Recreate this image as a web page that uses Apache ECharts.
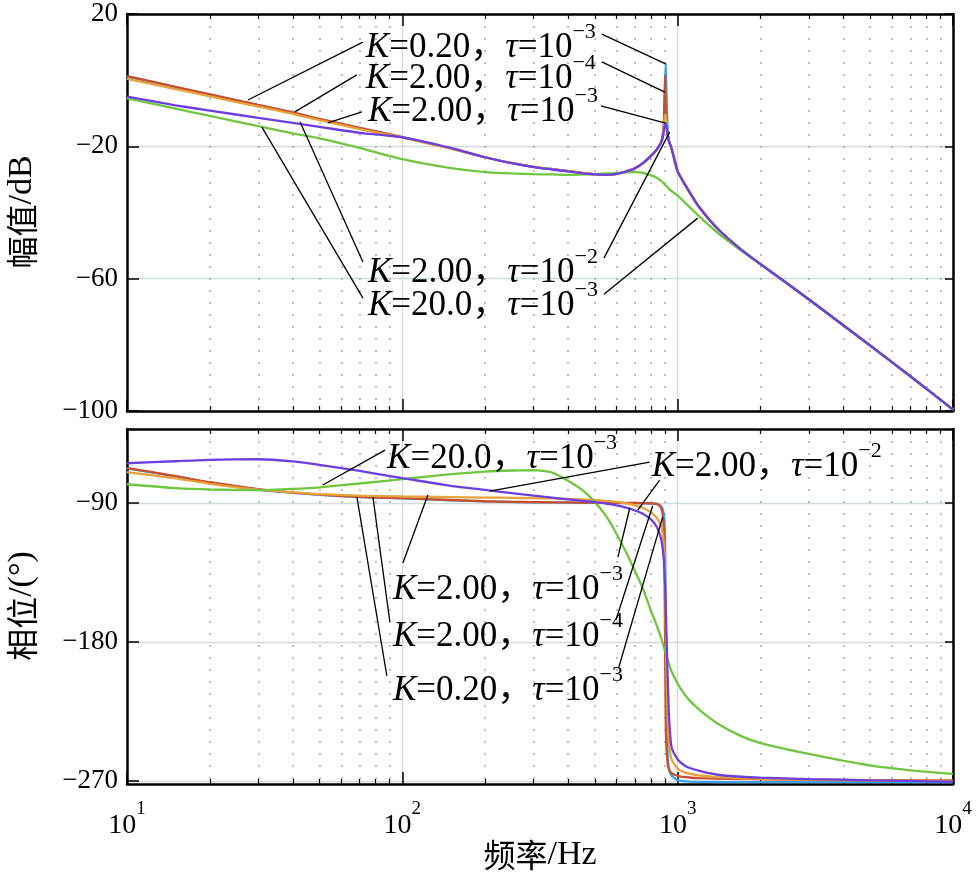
<!DOCTYPE html>
<html><head><meta charset="utf-8">
<script src="https://cdn.jsdelivr.net/npm/echarts@6/dist/echarts.min.js"></script>
<style>html,body{margin:0;padding:0;background:#fff}#c{width:980px;height:876px}</style>
</head><body><div id="c"></div>
<script>
// ---------------- data ----------------
const freq = [10, 15, 20, 30, 40, 50, 70, 100, 150, 200, 250, 300, 350, 400, 450, 500, 550, 600, 650, 700, 750, 800, 830, 850, 870, 880, 890, 895, 900, 905, 910, 920, 930, 950, 1000, 1050, 1100, 1200, 1400, 1700, 2000, 3000, 5000, 7000, 10000];

// magnitude, dB
const magBlue   = [1.1, -2.1, -4.4, -7.6, -9.8, -11.8, -14.5, -17.2, -20.6, -23.3, -25.1, -26.2, -26.9, -27.5, -28.0, -28.4, -28.6, -28.3, -27.6, -26.6, -25.0, -22.9, -21.5, -20.3, -18.8, -17.3, -14.0, -9.0, -3.5, 5.2, -3.0, -15.0, -18.3, -20.6, -27.6, -30.8, -33.6, -38.5, -45.0, -51.2, -55.6, -66.3, -80.2, -89.5, -99.6];
const magRed    = [1.2, -2.0, -4.3, -7.5, -9.7, -11.7, -14.4, -17.2, -20.6, -23.3, -25.1, -26.2, -26.9, -27.5, -28.0, -28.4, -28.6, -28.3, -27.6, -26.6, -25.0, -22.9, -21.5, -20.3, -18.8, -17.3, -13.5, -6.0, 1.6, -8.0, -13.0, -16.5, -18.5, -20.6, -27.6, -30.8, -33.6, -38.5, -45.0, -51.2, -55.6, -66.3, -80.2, -89.5, -99.6];
const magOrange = [0.4, -2.7, -4.9, -8.0, -10.2, -12.1, -14.8, -17.4, -20.7, -23.3, -25.1, -26.2, -26.9, -27.5, -28.0, -28.4, -28.6, -28.3, -27.6, -26.6, -25.0, -22.9, -21.5, -20.3, -18.9, -17.6, -14.5, -12.0, -10.5, -10.8, -13.0, -16.5, -18.5, -20.6, -27.6, -30.8, -33.6, -38.5, -45.0, -51.2, -55.6, -66.3, -80.2, -89.5, -99.6];
const magPurple = [-5.0, -7.6, -9.2, -11.4, -12.9, -14.1, -15.9, -17.3, -20.5, -23.3, -25.1, -26.3, -27.0, -27.6, -28.1, -28.5, -28.6, -28.3, -27.6, -26.6, -25.0, -22.9, -21.5, -20.3, -18.9, -17.8, -15.5, -14.4, -13.6, -13.2, -13.8, -16.5, -18.5, -20.6, -27.6, -30.8, -33.6, -38.5, -45.0, -51.2, -55.6, -66.3, -80.2, -89.5, -99.6];
const magGreen  = [-5.5, -8.6, -10.8, -13.9, -16.1, -17.6, -20.5, -23.9, -26.6, -27.8, -28.2, -28.4, -28.5, -28.6, -28.5, -28.4, -28.2, -28.1, -27.9, -27.8, -28.0, -28.8, -29.3, -29.8, -30.4, -30.8, -31.2, -31.4, -31.6, -31.8, -32.0, -32.4, -32.8, -33.5, -34.9, -36.6, -38.2, -41.2, -46.2, -51.5, -55.7, -66.3, -80.2, -89.5, -99.6];

// phase, degrees
const phBlue   = [-67.5, -72.7, -76.7, -81.2, -83.4, -84.7, -86.1, -87.0, -88.2, -88.9, -89.3, -89.5, -89.6, -89.7, -89.8, -89.8, -89.9, -89.9, -90.0, -90.0, -90.1, -90.3, -90.5, -90.8, -92.0, -93.5, -97.0, -101, -112, -160, -215, -252, -262, -266.5, -269.5, -270.2, -270.5, -270.6, -270.7, -270.8, -270.8, -270.8, -270.8, -270.8, -270.8];
const phRed    = [-67.3, -72.5, -76.5, -81.0, -83.2, -84.5, -85.9, -86.8, -88.0, -88.8, -89.2, -89.4, -89.5, -89.6, -89.7, -89.7, -89.8, -89.8, -89.9, -89.9, -90.0, -90.2, -90.4, -91.0, -93.0, -96.0, -106, -125, -180, -230, -248, -259, -262.5, -265, -266.8, -267.4, -267.8, -268.2, -268.5, -268.8, -269.0, -269.3, -269.5, -269.6, -269.7];
const phOrange = [-70.0, -74.0, -77.5, -81.3, -83.0, -84.2, -85.2, -85.7, -86.1, -86.4, -86.6, -86.8, -87.0, -87.3, -87.6, -88.0, -88.5, -89.2, -90.2, -91.5, -93.2, -96.0, -98.5, -101, -105, -108.5, -116, -124, -140, -165, -195, -230, -245, -256, -262, -264.2, -265.3, -266.5, -267.5, -268.3, -268.7, -269.3, -269.7, -269.8, -270.0];
const phPurple = [-64.2, -62.9, -62.0, -61.6, -63.0, -65.2, -69.2, -73.8, -78.8, -81.5, -83.6, -85.2, -86.5, -87.6, -88.5, -89.4, -90.3, -91.5, -93.0, -94.8, -97.0, -100.5, -104, -107.5, -113, -118, -126, -133, -143, -157, -173, -203, -228, -248, -256, -259.5, -261.5, -263.5, -266, -267.3, -267.9, -268.8, -269.6, -270.0, -270.5];
const phGreen  = [-77.8, -80.3, -81.2, -81.6, -80.8, -79.8, -77.3, -74.5, -71.3, -69.6, -68.9, -68.7, -70.2, -75.5, -81.5, -89.2, -98.5, -110, -122, -134, -146, -160, -167, -172, -177, -180, -183, -184.5, -186, -187.5, -189, -191.5, -194, -199, -207, -213, -217.5, -224, -233, -241, -245.5, -252.5, -260, -263.2, -265.5];

// ticks
const decadeTicks = [10, 100, 1000, 10000];
const minorTicks = [20,30,40,50,60,70,80,90,200,300,400,500,600,700,800,900,2000,3000,4000,5000,6000,7000,8000,9000];
const magTicks = [-100, -60, -20, 20];
const phaseTicks = [-270, -180, -90];

// annotation texts & anchors (data coordinates)
const annotations = [
  {grid:0, k:'0.20', e:'\u22123', at:[73.7, 11.2], leaders:[{side:'L',dx:-3,dy:-1,to:[27.5,-6.0]},{side:'R',dx:6,dy:-9,to:[904,4.9]}]},
  {grid:0, k:'2.00', e:'\u22124', at:[73.7, 1.9], leaders:[{side:'L',dx:-9,dy:1,to:[40.7,-9.6]},{side:'R',dx:6,dy:-12,to:[898,-3.6]}]},
  {grid:0, k:'2.00', e:'\u22123', at:[75.0,-8.1], leaders:[{side:'L',dx:-6,dy:5,to:[53.6,-12.9]},{side:'R',dx:3,dy:-1,to:[904,-13.0]}]},
  {grid:0, k:'2.00', e:'\u22122', at:[75.0,-56.8], leaders:[{side:'L',dx:-5,dy:-6,to:[42.5,-12.6]},{side:'R',dx:6,dy:-10,to:[935,-15.7]}]},
  {grid:0, k:'20.0', e:'\u22123', at:[75.0,-66.8], leaders:[{side:'L',dx:-5,dy:-3,to:[30.9,-14.2]},{side:'R',dx:6,dy:-7,to:[1182,-41.7]}]},
  {grid:1, k:'20.0', e:'\u22123', at:[88.0,-58.3], leaders:[{side:'L',dx:-2,dy:-4,to:[51.4,-78.3]}]},
  {grid:1, k:'2.00', e:'\u22122', at:[804.6,-63.5], leaders:[{side:'L',dx:-2,dy:0,to:[207.8,-82.2]},{side:'L',dx:8,dy:18,to:[716,-94.5]}]},
  {grid:1, k:'2.00', e:'\u22123', at:[92.4,-143.1], leaders:[{side:'L',dx:10,dy:-22,to:[123.8,-84.8]},{side:'R',dx:-5,dy:-28,to:[670,-93.2]}]},
  {grid:1, k:'2.00', e:'\u22124', at:[92.4,-173.5], leaders:[{side:'L',dx:-3,dy:-10,to:[78.2,-86.1]},{side:'R',dx:-7,dy:-12,to:[811,-91.9]}]},
  {grid:1, k:'0.20', e:'\u22123', at:[92.4,-208.5], leaders:[{side:'L',dx:-6,dy:-10,to:[68.4,-86.1]},{side:'R',dx:-4,dy:-19,to:[882,-99.1]}]}
];

// ---------------- styles ----------------
const SERIF = '"Liberation Serif","Times New Roman","Noto Sans CJK SC",serif';
const CJK = '"Noto Sans CJK SC","Noto Sans CJK JP",sans-serif';
const COL = {blue:'#3f9fe6', red:'#c94f2c', orange:'#e6a23c', purple:'#6e3fe0', green:'#6fc63f'};
const minus = v => String(v).replace('-', '\u2212');

function xAxesFor(gi, showLabel) {
  const base = {type:'log', logBase:10, min:10, max:10000, gridIndex:gi, axisPointer:{show:false}};
  const major = {show:true, inside:true, length:12, customValues:decadeTicks, lineStyle:{color:'#000', width:1.5}};
  const minor = {show:true, inside:true, length:5, customValues:minorTicks, lineStyle:{color:'#000', width:1.2}};
  return [
    Object.assign({}, base, {position:'bottom',
      axisLine:{show:true, onZero:false, lineStyle:{color:'#000', width:2.5}},
      axisTick:major,
      splitLine:{show:true, lineStyle:{color:'#d2dbdb', width:1.3}},
      axisLabel: showLabel ? {show:true, customValues:decadeTicks, margin:16, color:'#000',
        formatter: v => '{b|10}{s|' + Math.round(Math.log10(v)) + '}',
        rich:{b:{fontFamily:SERIF, fontSize:28, lineHeight:40, verticalAlign:'bottom', color:'#000'},
              s:{fontFamily:SERIF, fontSize:19, lineHeight:18, verticalAlign:'top', color:'#000'}}} : {show:false}}),
    Object.assign({}, base, {position:'bottom',
      axisLine:{show:false, onZero:false}, axisTick:minor,
      splitLine:{show:true, lineStyle:{color:'#a9b2b2', width:1.6, type:[2, 10]}},
      axisLabel:{show:false}}),
    Object.assign({}, base, {position:'top',
      axisLine:{show:true, onZero:false, lineStyle:{color:'#000', width:2.5}},
      axisTick:major, splitLine:{show:false}, axisLabel:{show:false}}),
    Object.assign({}, base, {position:'top',
      axisLine:{show:false, onZero:false}, axisTick:minor, splitLine:{show:false}, axisLabel:{show:false}})
  ];
}

const yLabel = {show:true, color:'#000', fontFamily:SERIF, fontSize:27, margin:9, formatter:minus};
const yAxes = [
  {type:'value', gridIndex:0, position:'left', min:-100, max:20, interval:40,
   axisLine:{show:true, onZero:false, lineStyle:{color:'#000', width:2.5}},
   axisTick:{show:true, inside:true, length:12, lineStyle:{color:'#000', width:1.5}},
   splitLine:{show:true, lineStyle:{color:'#d2dbdb', width:1.3}}, axisLabel:yLabel},
  {type:'value', gridIndex:0, position:'right', min:-100, max:20, interval:40,
   axisLine:{show:true, onZero:false, lineStyle:{color:'#000', width:2.5}},
   axisTick:{show:true, inside:true, length:8, lineStyle:{color:'#000', width:1.5}},
   splitLine:{show:false}, axisLabel:{show:false}},
  {type:'value', gridIndex:1, position:'left', min:-272, max:-42,
   axisLine:{show:true, onZero:false, lineStyle:{color:'#000', width:2.5}},
   axisTick:{show:true, inside:true, length:12, customValues:phaseTicks, lineStyle:{color:'#000', width:1.5}},
   splitLine:{show:true, lineStyle:{color:'#d2dbdb', width:1.3}},
   axisLabel:Object.assign({customValues:phaseTicks}, yLabel)},
  {type:'value', gridIndex:1, position:'right', min:-272, max:-42,
   axisLine:{show:true, onZero:false, lineStyle:{color:'#000', width:2.5}},
   axisTick:{show:true, inside:true, length:8, customValues:phaseTicks, lineStyle:{color:'#000', width:1.5}},
   splitLine:{show:false}, axisLabel:{show:false}}
];

function mk(arr, color, xi, yi) {
  return {type:'line', data:freq.map((f, i) => [f, arr[i]]), xAxisIndex:xi, yAxisIndex:yi,
    showSymbol:false, symbol:'none', smooth:0.2, silent:true,
    lineStyle:{width:2.3, color:color}, itemStyle:{color:color}};
}

const series = [
  mk(magBlue, COL.blue, 0, 0), mk(magRed, COL.red, 0, 0), mk(magOrange, COL.orange, 0, 0),
  mk(magGreen, COL.green, 0, 0), mk(magPurple, COL.purple, 0, 0),
  mk(phBlue, COL.blue, 4, 2), mk(phRed, COL.red, 4, 2), mk(phOrange, COL.orange, 4, 2),
  mk(phGreen, COL.green, 4, 2), mk(phPurple, COL.purple, 4, 2)
];

const chart = echarts.init(document.getElementById('c'), null, {renderer:'canvas'});
chart.setOption({
  animation:false,
  backgroundColor:'#fff',
  grid:[{left:127, top:14, width:826, height:397}, {left:127, top:429, width:826, height:355}],
  xAxis: xAxesFor(0, false).concat(xAxesFor(1, true)),
  yAxis: yAxes,
  series: series
});

// ---------------- annotations ----------------
const mctx = document.createElement('canvas').getContext('2d');
function tw(font, s) { mctx.font = font; return mctx.measureText(s).width; }
const FN = '35px ' + SERIF, FI = 'italic 35px ' + SERIF, FS = '22px ' + SERIF;
const annRich = {
  i:{fontFamily:SERIF, fontStyle:'italic', fontSize:35, lineHeight:44, verticalAlign:'bottom', fill:'#000'},
  n:{fontFamily:SERIF, fontSize:35, lineHeight:44, verticalAlign:'bottom', fill:'#000'},
  s:{fontFamily:SERIF, fontSize:22, lineHeight:24, verticalAlign:'top', fill:'#000'}
};
function toPx(g, p) {
  return chart.convertToPixel(g === 0 ? {xAxisIndex:0, yAxisIndex:0} : {xAxisIndex:4, yAxisIndex:2}, p);
}
const graphics = [];
annotations.forEach(a => {
  const p = toPx(a.grid, a.at);
  const w = tw(FI, 'K') + tw(FN, '=' + a.k + '\uff0c') + tw(FI, '\u03c4') + tw(FN, '=10') + tw(FS, a.e);
  graphics.push({type:'text', x:p[0], y:p[1], z:100,
    style:{text:'{i|K}{n|=' + a.k + '\uff0c}{i|\u03c4}{n|=10}{s|' + a.e + '}', rich:annRich,
      align:'left', verticalAlign:'middle', textAlign:'left', textVerticalAlign:'middle'}});
  a.leaders.forEach(l => {
    const sx = (l.side === 'L' ? p[0] : p[0] + w) + l.dx, sy = p[1] + l.dy;
    const t = toPx(a.grid, l.to);
    graphics.push({type:'line', z:99, shape:{x1:sx, y1:sy, x2:t[0], y2:t[1]},
      style:{stroke:'#000', lineWidth:1.3}});
  });
});

// axis names
const nameRich = {
  c:{fontFamily:CJK, fontSize:32, fill:'#000', lineHeight:40},
  l:{fontFamily:SERIF, fontSize:34, fill:'#000', lineHeight:40}
};
function nameText(x, y, rot, txt) {
  return {type:'text', x:x, y:y, rotation:rot, z:100,
    style:{text:txt, rich:nameRich, align:'center', verticalAlign:'middle', textAlign:'center', textVerticalAlign:'middle'}};
}
graphics.push(nameText(22, 212, Math.PI / 2, '{c|幅值}{l|/dB}'));
graphics.push(nameText(22, 606, Math.PI / 2, '{c|相位}{l|/(°)}'));
graphics.push(nameText(540, 855, 0, '{c|频率}{l|/Hz}'));

chart.setOption({graphic:graphics});
</script>
</body></html>
